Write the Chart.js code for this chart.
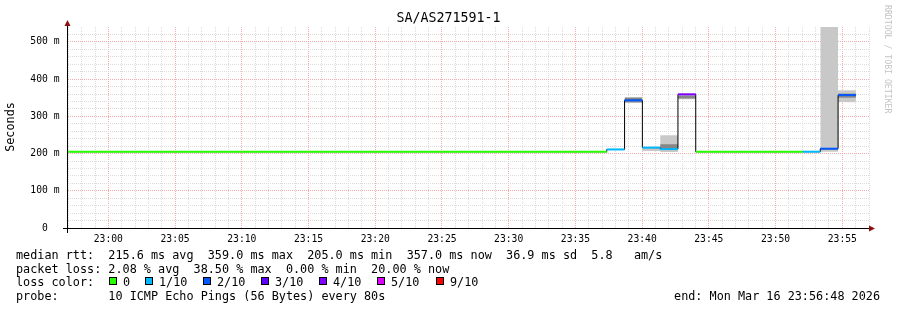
<!DOCTYPE html>
<html>
<head>
<meta charset="utf-8">
<title>SA/AS271591-1</title>
<script src="https://cdn.jsdelivr.net/npm/chart.js@4.4.1/dist/chart.umd.min.js"></script>
<style>
    html, body { margin: 0; padding: 0; background: #fff; }
    canvas { display: block; }
</style>
</head>
<body>
<canvas id="smokeGraf" width="897" height="310"></canvas>
<script>
// casy v sekundach od 23:00:00, krok 80 s (klidne useky jsou slouceny)
const stepStart = [-186, 2241, 2321, 2401, 2481, 2561, 2641, 3121, 3201, 3281];
const stepEnd   = [2241, 2321, 2401, 2481, 2561, 2641, 3121, 3201, 3281, 3361];
const medianMs  = [205, 211, 343, 216, 212, 359, 205, 205, 213, 357];
const lossIdx   = [0, 1, 2, 1, 1, 4, 0, 1, 2, 2];

// "smoke" - rozptyl pingu (svetla a tmava cast)
const smokeLo = [205, 211, 336, 207, 204, 346, 205, 205, 205, 338];
const smokeHi = [205, 211, 352, 217, 249, 358, 205, 205, 540, 370];
const coreLo  = [205, 211, 338, 216, 214, 348, 205, 205, 213, 350];
const coreHi  = [205, 211, 350, 216, 225, 355, 205, 205, 213, 361];

const lossLevels = ['0', '1/10', '2/10', '3/10', '4/10', '5/10', '9/10'];
const lossColors = ['#26ff00', '#00b8ff', '#0059ff', '#5e00ff', '#7e00ff', '#dd00ff', '#ff0000'];

const majorTimes = [0, 300, 600, 900, 1200, 1500, 1800, 2100, 2400, 2700, 3000, 3300];
const timeLabels = ['23:00', '23:05', '23:10', '23:15', '23:20', '23:25',
                    '23:30', '23:35', '23:40', '23:45', '23:50', '23:55'];

const statLines = [
    'median rtt:  215.6 ms avg  359.0 ms max  205.0 ms min  357.0 ms now  36.9 ms sd  5.8   am/s',
    'packet loss: 2.08 % avg  38.50 % max  0.00 % min  20.00 % now'
];
const probeLine = 'probe:       10 ICMP Echo Pings (56 Bytes) every 80s';
const endLine = 'end: Mon Mar 16 23:56:48 2026';
const titleText = 'SA/AS271591-1';

const MONO = '"DejaVu Sans Mono", monospace';
Chart.defaults.font.family = MONO;

const MAJOR_GRID = '#f5adad';
const MINOR_GRID = '#dcdcdc';

const datasets = [];

// svetly smoke
stepStart.forEach((s, i) => {
    if (smokeHi[i] <= smokeLo[i]) return;
    datasets.push({
        data: [{x: s, y: smokeHi[i]}, {x: stepEnd[i], y: smokeHi[i]}],
        borderWidth: 0,
        backgroundColor: 'rgb(200,200,200)',
        fill: {value: smokeLo[i]},
        pointRadius: 0,
        order: 3
    });
});
// tmavy smoke
stepStart.forEach((s, i) => {
    if (coreHi[i] <= coreLo[i]) return;
    datasets.push({
        data: [{x: s, y: coreHi[i]}, {x: stepEnd[i], y: coreHi[i]}],
        borderWidth: 0,
        backgroundColor: 'rgb(135,135,135)',
        fill: {value: coreLo[i]},
        pointRadius: 0,
        order: 2
    });
});
// cerna schodovita median
const medianPts = stepStart.map((s, i) => ({x: s, y: medianMs[i]}));
medianPts.push({x: stepEnd[stepEnd.length - 1], y: medianMs[medianMs.length - 1]});
datasets.push({
    data: medianPts,
    stepped: true,
    borderColor: '#000',
    borderWidth: 1,
    pointRadius: 0,
    fill: false,
    order: 1
});
// barevne useky podle ztrat
stepStart.forEach((s, i) => {
    datasets.push({
        data: [{x: s, y: medianMs[i]}, {x: stepEnd[i], y: medianMs[i]}],
        borderColor: lossColors[lossIdx[i]],
        borderWidth: 2,
        pointRadius: 0,
        fill: false,
        order: 0
    });
});

const rrdDecor = {
    id: 'rrdDecor',
    afterDraw(chart) {
        const {ctx, chartArea: a} = chart;
        ctx.save();

        // prodlouzeni os + sipky
        ctx.strokeStyle = '#000';
        ctx.lineWidth = 1;
        ctx.beginPath();
        ctx.moveTo(63, a.bottom + 0.5);
        ctx.lineTo(a.right, a.bottom + 0.5);
        ctx.moveTo(a.left + 0.5, a.bottom + 5);
        ctx.lineTo(a.left + 0.5, a.top - 2);
        ctx.stroke();

        ctx.fillStyle = '#8c1010';
        ctx.beginPath();
        ctx.moveTo(a.left + 0.5, a.top - 7);
        ctx.lineTo(a.left - 2.5, a.top - 1);
        ctx.lineTo(a.left + 3.5, a.top - 1);
        ctx.closePath();
        ctx.fill();
        ctx.beginPath();
        ctx.moveTo(a.right + 6, a.bottom + 0.5);
        ctx.lineTo(a.right, a.bottom - 2.5);
        ctx.lineTo(a.right, a.bottom + 3.5);
        ctx.closePath();
        ctx.fill();

        // titulek
        ctx.fillStyle = '#000';
        ctx.font = '13.3px ' + MONO;
        ctx.textAlign = 'center';
        ctx.textBaseline = 'middle';
        ctx.fillText(titleText, 448.5, 19);

        // popis osy y
        ctx.save();
        ctx.translate(11, 127);
        ctx.rotate(-Math.PI / 2);
        ctx.font = '11.8px ' + MONO;
        ctx.fillText('Seconds', 0, 0);
        ctx.restore();

        // vodoznak
        ctx.save();
        ctx.translate(887, 5);
        ctx.rotate(Math.PI / 2);
        ctx.font = '8.2px ' + MONO;
        ctx.fillStyle = '#c4c4c4';
        ctx.textAlign = 'left';
        ctx.fillText('RRDTOOL / TOBI OETIKER', 0, 0);
        ctx.restore();

        // legenda
        ctx.font = '11.8px ' + MONO;
        ctx.textAlign = 'left';
        ctx.textBaseline = 'alphabetic';
        ctx.fillStyle = '#000';
        ctx.fillText(statLines[0], 16, 259);
        ctx.fillText(statLines[1], 16, 272.7);
        ctx.fillText('loss color:', 16, 286.3);
        ctx.fillText(probeLine, 16, 300);
        ctx.textAlign = 'right';
        ctx.fillText(endLine, 880, 300);

        const boxX = [109, 145, 203, 261, 319, 377, 436];
        ctx.textAlign = 'left';
        lossLevels.forEach((lbl, i) => {
            ctx.fillStyle = lossColors[i];
            ctx.fillRect(boxX[i], 277, 8, 8);
            ctx.strokeStyle = '#000';
            ctx.strokeRect(boxX[i] + 0.5, 277.5, 7, 7);
            ctx.fillStyle = '#000';
            ctx.fillText(lbl, boxX[i] + 14, 286.3);
        });

        ctx.restore();
    }
};

new Chart(document.getElementById('smokeGraf'), {
    type: 'line',
    data: {datasets: datasets},
    options: {
        responsive: false,
        maintainAspectRatio: false,
        animation: false,
        devicePixelRatio: 1,
        events: [],
        layout: {
            padding: {top: 27, right: 28, left: 0, bottom: 0}
        },
        plugins: {
            legend: {display: false},
            tooltip: {enabled: false}
        },
        scales: {
            x: {
                type: 'linear',
                min: -186,
                max: 3420,
                afterBuildTicks: scale => {
                    const t = [];
                    for (let v = -180; v <= 3420; v += 60) t.push({value: v});
                    scale.ticks = t;
                },
                afterFit: scale => { scale.height = 82; },
                ticks: {
                    autoSkip: false,
                    maxRotation: 0,
                    padding: 2,
                    color: '#000',
                    font: {size: 9.7},
                    callback: v => {
                        const k = majorTimes.indexOf(v);
                        return k >= 0 ? timeLabels[k] : '';
                    }
                },
                grid: {
                    color: c => (c.tick.value % 300 === 0 ? MAJOR_GRID : MINOR_GRID),
                    tickLength: 4,
                    tickColor: 'rgba(0,0,0,0)'
                },
                border: {color: '#000', width: 1, dash: [1, 1]}
            },
            y: {
                type: 'linear',
                min: 0,
                max: 540,
                afterFit: scale => { scale.width = 67; },
                ticks: {
                    stepSize: 20,
                    autoSkip: false,
                    padding: 3.5,
                    color: '#000',
                    font: {size: 9.7},
                    callback: v => v % 100 === 0 ? (v === 0 ? '0  ' : v + ' m') : ''
                },
                grid: {
                    color: c => {
                        const v = c.tick.value;
                        if (v === 0 || v === 540) return 'rgba(0,0,0,0)';
                        return v % 100 === 0 ? MAJOR_GRID : MINOR_GRID;
                    },
                    tickLength: 4,
                    tickColor: 'rgba(0,0,0,0)'
                },
                border: {color: '#555', width: 1, dash: [1, 1]}
            }
        }
    },
    plugins: [rrdDecor]
});
</script>
</body>
</html>
